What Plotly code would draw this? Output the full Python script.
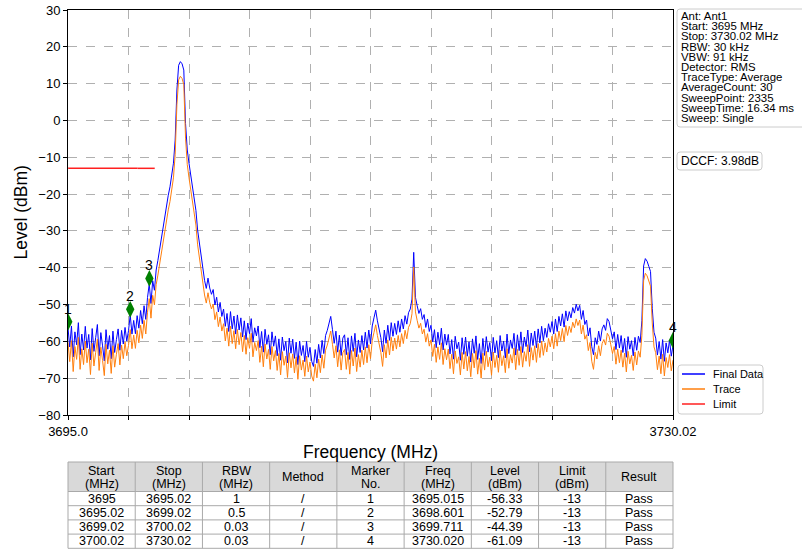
import numpy as np
import plotly.graph_objects as go

# ---------------- data ----------------
sweep_start = 3695.0
sweep_stop = 3730.02
dccf = 3.98  # dB, Final Data = Trace + DCCF

trace_levels = [
    -60.3, -65.5, -59.8, -68.2, -61.4, -64.9, -58.9, -67.6, -62.0, -66.3,
    -59.9, -65.8, -62.1, -69.0, -60.5, -66.7, -63.0, -59.4, -67.9, -61.6,
    -65.2, -69.3, -60.8, -66.1, -62.4, -68.7, -61.2, -67.0, -63.5, -60.6,
    -66.4, -61.0, -64.7, -60.2, -63.9, -61.1, -56.8, -62.0, -58.3, -61.9,
    -57.0, -60.4, -55.6, -59.2, -54.3, -58.0, -52.1, -48.4, -53.7, -47.5,
    -50.1, -44.6, -42.0, -39.0, -35.8, -33.0, -29.4, -26.5, -24.3, -22.0,
    -18.7, -15.6, -9.3, 4.3, 11.0, 12.0, 11.4, 9.7, -4.8, -12.0,
    -15.6, -19.0, -23.0, -25.6, -28.4, -33.8, -37.2, -41.0, -44.1, -47.4,
    -49.6, -46.8, -49.5, -51.2, -49.9, -54.1, -52.0, -56.0, -53.4, -57.2,
    -55.2, -59.9, -56.4, -61.3, -55.9, -60.6, -57.1, -62.0, -56.8, -60.9,
    -57.6, -62.8, -58.4, -63.5, -59.0, -61.9, -57.8, -64.2, -60.3, -62.5,
    -59.8, -65.7, -61.3, -66.9, -60.7, -64.8, -62.2, -67.6, -61.4, -65.3,
    -62.5, -67.9, -63.3, -69.1, -62.8, -66.5, -64.0, -69.8, -63.1, -67.2,
    -63.4, -68.6, -64.2, -70.3, -63.9, -67.8, -65.1, -69.5, -64.0, -68.3,
    -65.6, -69.4, -70.8, -66.2, -69.9, -64.8, -68.5, -63.7, -67.3, -62.4,
    -61.0, -58.6, -57.2, -60.8, -64.5, -61.2, -66.9, -62.3, -67.8, -63.1,
    -62.2, -67.6, -63.0, -68.9, -62.5, -66.7, -61.8, -68.2, -63.6, -67.0,
    -62.4, -66.3, -61.5, -65.8, -60.9, -64.7, -59.8, -57.6, -55.5, -58.4,
    -60.7, -63.0, -66.8, -60.9, -64.5, -59.6, -63.7, -58.9, -62.6, -59.1,
    -62.1, -58.4, -61.5, -57.9, -60.6, -57.0, -59.3, -56.2, -55.2, -52.5,
    -39.8, -52.0, -54.3, -56.4, -55.1, -58.0, -56.7, -60.2, -57.9, -61.3,
    -59.6, -64.1, -60.8, -65.7, -61.5, -64.9, -60.4, -66.3, -62.0, -65.0,
    -62.1, -67.4, -63.5, -68.8, -62.6, -66.0, -64.2, -69.1, -63.0, -67.5,
    -62.8, -68.0, -64.1, -69.6, -63.3, -67.2, -62.5, -68.9, -64.6, -70.0,
    -63.2, -67.8, -62.7, -66.9, -64.3, -69.2, -62.9, -67.1, -63.8, -68.4,
    -62.4, -66.6, -63.9, -68.5, -62.0, -67.3, -63.6, -65.9, -61.8, -67.7,
    -62.2, -66.5, -61.4, -67.0, -62.8, -65.4, -60.9, -66.8, -61.7, -65.1,
    -61.2, -65.7, -60.6, -64.4, -59.9, -63.8, -60.4, -62.9, -59.2, -61.5,
    -58.6, -62.0, -57.9, -61.3, -57.2, -59.8, -56.5, -60.1, -55.7, -58.4,
    -55.9, -57.6, -54.8, -56.3, -53.9, -55.7, -54.2, -58.0, -55.6, -59.4,
    -58.2, -62.5, -60.3, -65.4, -67.6, -63.0, -64.8, -61.2, -63.9, -60.6,
    -59.5, -61.0, -57.8, -58.6, -60.9, -63.3, -61.4, -66.2, -62.1, -65.8,
    -62.4, -67.0, -63.2, -68.3, -62.7, -66.1, -63.8, -67.9, -62.9, -66.4,
    -62.6, -64.3, -58.4, -43.5, -41.5, -42.2, -43.6, -45.0, -55.0, -61.5,
    -63.1, -67.7, -64.0, -68.8, -63.5, -69.4, -64.4, -67.1, -63.6, -68.0, -65.1,
]

# table
header_top = ["Start", "Stop", "RBW", "Method", "Marker", "Freq", "Level", "Limit", "Result"]
header_bottom = ["(MHz)", "(MHz)", "(MHz)", "", "No.", "(MHz)", "(dBm)", "(dBm)", ""]
tbl_start = ["3695", "3695.02", "3699.02", "3700.02"]
tbl_stop = ["3695.02", "3699.02", "3700.02", "3730.02"]
tbl_rbw = ["1", "0.5", "0.03", "0.03"]
tbl_method = ["/", "/", "/", "/"]
tbl_marker = ["1", "2", "3", "4"]
tbl_freq = ["3695.015", "3698.601", "3699.711", "3730.020"]
tbl_level = ["-56.33", "-52.79", "-44.39", "-61.09"]
tbl_limit = ["-13", "-13", "-13", "-13"]
tbl_result = ["Pass", "Pass", "Pass", "Pass"]

# marker positions as drawn in the picture
marker_labels = ["1", "2", "3", "4"]
marker_plot_levels = [-54.7, -51.3, -42.9, -59.7]

# limit segments drawn (first three table rows)
limit_rows_drawn = 3

info_lines = [
    "Ant: Ant1", "Start: 3695 MHz", "Stop: 3730.02 MHz", "RBW: 30 kHz",
    "VBW: 91 kHz", "Detector: RMS", "TraceType: Average", "AverageCount: 30",
    "SweepPoint: 2335", "SweepTime: 16.34 ms", "Sweep: Single",
]
dccf_text = "DCCF: 3.98dB"

y_tick_vals = [30, 20, 10, 0, -10, -20, -30, -40, -50, -60, -70, -80]
x_tick_labels = ["3695.0", "", "", "", "", "", "", "", "", "", "3730.02"]

# ---------------- derived ----------------
freqs = np.linspace(sweep_start, sweep_stop, len(trace_levels))
trace_arr = np.array(trace_levels)
final_data = trace_arr + dccf
marker_freqs = [float(f) for f in tbl_freq]
x_tick_vals = list(np.linspace(sweep_start, sweep_stop, len(x_tick_labels)))
y_tick_text = [str(v).replace("-", "\u2212") for v in y_tick_vals]

lim_x, lim_y = [], []
for i in range(limit_rows_drawn):
    lim_x += [float(tbl_start[i]), float(tbl_stop[i]), None]
    lim_y += [float(tbl_limit[i]), float(tbl_limit[i]), None]

W, H = 802, 550
FONT = "Liberation Sans, Arial, sans-serif"

def px(x):
    return x / W

def py(y):
    return 1 - y / H

def text_ann(x, y, text, size, xanchor="center", angle=0):
    return dict(x=px(x), y=py(y), xref="paper", yref="paper", text=text,
                showarrow=False, xanchor=xanchor, yanchor="middle", textangle=angle,
                font=dict(family=FONT, size=size, color="black"))

fig = go.Figure()
fig.add_trace(go.Scatter(x=freqs, y=final_data, mode="lines",
                         line=dict(color="#0000ff", width=1), name="Final Data"))
fig.add_trace(go.Scatter(x=freqs, y=trace_arr, mode="lines",
                         line=dict(color="#ff7f0e", width=1), name="Trace"))
fig.add_trace(go.Scatter(x=lim_x, y=lim_y, mode="lines",
                         line=dict(color="#ff2020", width=1.5), name="Limit"))
fig.add_trace(go.Scatter(x=marker_freqs, y=marker_plot_levels, mode="markers",
                         marker=dict(symbol="diamond-tall", size=12, color="#008000",
                                     line=dict(width=0)),
                         name="Markers"))

ann = []
shapes = []
for f, lv, lb in zip(marker_freqs, marker_plot_levels, marker_labels):
    ann.append(dict(x=f, y=lv, xref="x", yref="y", text=lb, showarrow=False,
                    xanchor="center", yanchor="middle", yshift=13,
                    font=dict(family=FONT, size=14, color="black")))

# axis titles
ann.append(text_ann(370.5, 452, "Frequency (MHz)", 17.5))
ann.append(text_ann(20, 212.5, "Level (dBm)", 17.5, angle=-90))

# info box
for k, line in enumerate(info_lines):
    ann.append(text_ann(679, 16 + 10.2 * k, line, 11.4, xanchor="left"))
ann.append(text_ann(679, 161, dccf_text, 12, xanchor="left"))

# manual legend
legend_items = [("Final Data", "#0000ff"), ("Trace", "#ff7f0e"), ("Limit", "#ff2020")]
for k, (name, col) in enumerate(legend_items):
    yy = 374 + 15 * k
    shapes.append(dict(type="line", xref="paper", yref="paper",
                       x0=px(682), x1=px(705), y0=py(yy), y1=py(yy),
                       line=dict(color=col, width=1.5)))
    ann.append(text_ann(711, yy, name, 11, xanchor="left"))

def rrect(x0, y0, x1, y1, r=3):
    pts = (f"M {px(x0 + r)} {py(y0)} L {px(x1 - r)} {py(y0)} "
           f"Q {px(x1)} {py(y0)} {px(x1)} {py(y0 + r)} "
           f"L {px(x1)} {py(y1 - r)} Q {px(x1)} {py(y1)} {px(x1 - r)} {py(y1)} "
           f"L {px(x0 + r)} {py(y1)} Q {px(x0)} {py(y1)} {px(x0)} {py(y1 - r)} "
           f"L {px(x0)} {py(y0 + r)} Q {px(x0)} {py(y0)} {px(x0 + r)} {py(y0)} Z")
    return dict(type="path", xref="paper", yref="paper", path=pts,
                line=dict(color="#cccccc", width=1), fillcolor="rgba(255,255,255,0.8)",
                layer="below")

shapes.append(rrect(677, 9, 808, 127))
shapes.append(rrect(677, 152, 762, 170))
shapes.append(rrect(678, 365, 763, 414))

# ---------------- table (drawn with shapes + text) ----------------
tbl_left, tbl_right = 68, 673
tbl_top, head_bot, row_h = 462, 491.5, 14.2
columns = [tbl_start, tbl_stop, tbl_rbw, tbl_method, tbl_marker,
           tbl_freq, tbl_level, tbl_limit, tbl_result]
ncol = len(columns)
nrow = len(tbl_start)
col_w = (tbl_right - tbl_left) / ncol
tbl_bot = head_bot + nrow * row_h
TBL_LINE = "#a9a9a9"
shapes.append(dict(type="rect", xref="paper", yref="paper",
                   x0=px(tbl_left), x1=px(tbl_right), y0=py(head_bot), y1=py(tbl_top),
                   fillcolor="#d9d9d9", line=dict(width=0), layer="below"))
for yy in [tbl_top, head_bot] + [head_bot + (r + 1) * row_h for r in range(nrow)]:
    shapes.append(dict(type="line", xref="paper", yref="paper",
                       x0=px(tbl_left), x1=px(tbl_right), y0=py(yy), y1=py(yy),
                       line=dict(color=TBL_LINE, width=1)))
for c in range(ncol + 1):
    xx = tbl_left + c * col_w
    shapes.append(dict(type="line", xref="paper", yref="paper",
                       x0=px(xx), x1=px(xx), y0=py(tbl_top), y1=py(tbl_bot),
                       line=dict(color=TBL_LINE, width=1)))
for c in range(ncol):
    xc = tbl_left + (c + 0.5) * col_w
    if header_bottom[c]:
        ann.append(text_ann(xc, 470.5, header_top[c], 12.5))
        ann.append(text_ann(xc, 484, header_bottom[c], 12.5))
    else:
        ann.append(text_ann(xc, 477, header_top[c], 12.5))
    for r in range(nrow):
        ann.append(text_ann(xc, head_bot + (r + 0.5) * row_h, columns[c][r], 12.5))

axis_common = dict(showline=True, linecolor="black", linewidth=1, mirror=True,
                   ticks="outside", ticklen=4, tickcolor="black",
                   showgrid=True, gridcolor="#b0b0b0", griddash="dash", gridwidth=0.8,
                   zeroline=False, ticklabeloverflow="allow",
                   tickfont=dict(family=FONT, size=13, color="black"))

fig.update_layout(
    width=W, height=H,
    margin=dict(l=0, r=0, t=0, b=0, autoexpand=False),
    paper_bgcolor="white", plot_bgcolor="white",
    showlegend=False,
    xaxis=dict(domain=[px(68), px(673)], range=[sweep_start, sweep_stop],
               tickmode="array", tickvals=x_tick_vals, ticktext=x_tick_labels,
               automargin=False, **axis_common),
    yaxis=dict(domain=[py(415), py(10)], range=[-80, 30],
               tickmode="array", tickvals=y_tick_vals, ticktext=y_tick_text,
               automargin=False, **axis_common),
    annotations=ann,
    shapes=shapes,
)

# remove the default page margin so the 802x550 figure fills the window exactly
fig.write_html("out.html", config={"displayModeBar": False},
               post_script="document.body.style.margin='0';")
